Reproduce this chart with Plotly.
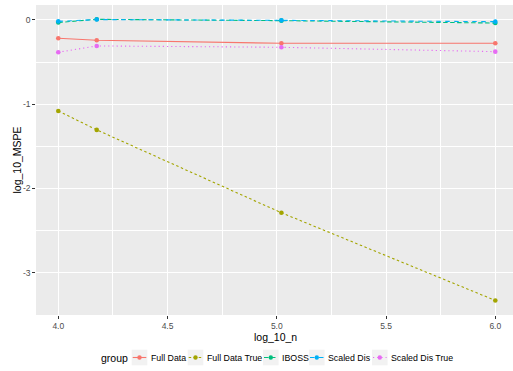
import plotly.graph_objects as go

log_10_n = [4.0, 4.176, 5.021, 6.0]
groups = ["Full Data", "Full Data True", "IBOSS", "Scaled Dis", "Scaled Dis True"]
full_data = [-0.217, -0.241, -0.277, -0.277]
full_data_true = [-1.08, -1.305, -2.289, -3.33]
iboss = [-0.03, 0.008, -0.008, -0.036]
scaled_dis = [-0.016, 0.005, -0.004, -0.02]
scaled_dis_true = [-0.383, -0.308, -0.324, -0.376]

values = [full_data, full_data_true, iboss, scaled_dis, scaled_dis_true]
colors = ["#F8766D", "#A3A500", "#00BF7D", "#00B0F6", "#E76BF3"]
dashes = ["solid", "2.5px,2.5px", "4.5px,2.5px", "4.5px,4.5px", "1.2px,3px"]

x_ticks = [4.0, 4.5, 5.0, 5.5, 6.0]
x_ticklabels = ["4.0", "4.5", "5.0", "5.5", "6.0"]
y_ticks = [0, -1, -2, -3]
y_ticklabels = ["0", "-1", "-2", "-3"]

W, H = 513, 371
ML, MR, MT, MB = 36, 0, 5, 56
PW, PH = W - ML - MR, H - MT - MB

def px_x(p):
    return (p - ML) / PW

def px_y(p):
    return (H - MB - p) / PH

fig = go.Figure()
for name, y, c, d in zip(groups, values, colors, dashes):
    fig.add_trace(go.Scatter(
        x=log_10_n, y=y, name=name, mode="lines+markers",
        line=dict(color=c, width=1.1, dash=d),
        marker=dict(color=c, size=4.6),
        showlegend=False,
    ))

font = "Liberation Sans, Arial, sans-serif"

# custom ggplot-style legend and axis titles (layout decoration)
legend_key_left = [131.7, 187.7, 263, 309, 372]
key_w = 15.6
leg_y = 357.5
shapes = []
annotations = [
    dict(text="group", x=px_x(99.5), y=px_y(leg_y), xref="paper", yref="paper",
         xanchor="left", yanchor="middle", showarrow=False, borderpad=0,
         font=dict(size=10.5, color="#000000", family=font)),
    dict(text="log_10_n", x=px_x(275.5), y=px_y(337), xref="paper", yref="paper",
         xanchor="center", yanchor="middle", showarrow=False, borderpad=0,
         font=dict(size=10.5, color="#000000", family=font)),
    dict(text="log_10_MSPE", x=px_x(16.5), y=px_y(160), xref="paper", yref="paper",
         xanchor="center", yanchor="middle", showarrow=False, borderpad=0, textangle=-90,
         font=dict(size=10.5, color="#000000", family=font)),
]
for name, c, d, kx in zip(groups, colors, dashes, legend_key_left):
    shapes.append(dict(type="rect", xref="paper", yref="paper",
                       x0=px_x(kx), x1=px_x(kx + key_w),
                       y0=px_y(leg_y - key_w / 2), y1=px_y(leg_y + key_w / 2),
                       fillcolor="#F2F2F2", line=dict(width=0)))
    shapes.append(dict(type="line", xref="paper", yref="paper",
                       x0=px_x(kx + 1), x1=px_x(kx + key_w - 1),
                       y0=px_y(leg_y), y1=px_y(leg_y),
                       line=dict(color=c, width=1.1, dash=d)))
    cx = kx + key_w / 2
    shapes.append(dict(type="circle", xref="paper", yref="paper",
                       x0=px_x(cx - 2.2), x1=px_x(cx + 2.2),
                       y0=px_y(leg_y + 2.2), y1=px_y(leg_y - 2.2),
                       fillcolor=c, line=dict(width=0)))
    annotations.append(dict(text=name, x=px_x(kx + key_w + 2.3), y=px_y(leg_y),
                            xref="paper", yref="paper", xanchor="left", yanchor="middle",
                            showarrow=False, borderpad=0,
                            font=dict(size=8.8, color="#000000", family=font)))

fig.update_layout(
    width=W, height=H,
    margin=dict(l=ML, r=MR, t=MT, b=MB, autoexpand=False),
    paper_bgcolor="white", plot_bgcolor="#EBEBEB",
    font=dict(family=font, color="#000000"),
    showlegend=False,
    shapes=shapes, annotations=annotations,
    xaxis=dict(
        range=[3.898, 6.081], tickvals=x_ticks, ticktext=x_ticklabels,
        showgrid=True, gridcolor="white", gridwidth=1,
        minor=dict(showgrid=True, gridcolor="white", gridwidth=0.5, dtick=0.25, tick0=4.25),
        zeroline=False, ticks="outside", ticklen=2.75, tickcolor="#333333",
        tickfont=dict(size=8.5, color="#4D4D4D"),
        showline=False, automargin=False,
    ),
    yaxis=dict(
        range=[-3.503, 0.178], tickvals=y_ticks, ticktext=y_ticklabels,
        showgrid=True, gridcolor="white", gridwidth=1,
        minor=dict(showgrid=True, gridcolor="white", gridwidth=0.5, dtick=1, tick0=-0.5),
        zeroline=False, ticks="outside", ticklen=2.75, tickcolor="#333333",
        tickfont=dict(size=8.5, color="#4D4D4D"),
        showline=False, automargin=False,
    ),
)
fig.write_html("out.html", config={"displayModeBar": False},
               post_script="document.body.style.margin='0';")
